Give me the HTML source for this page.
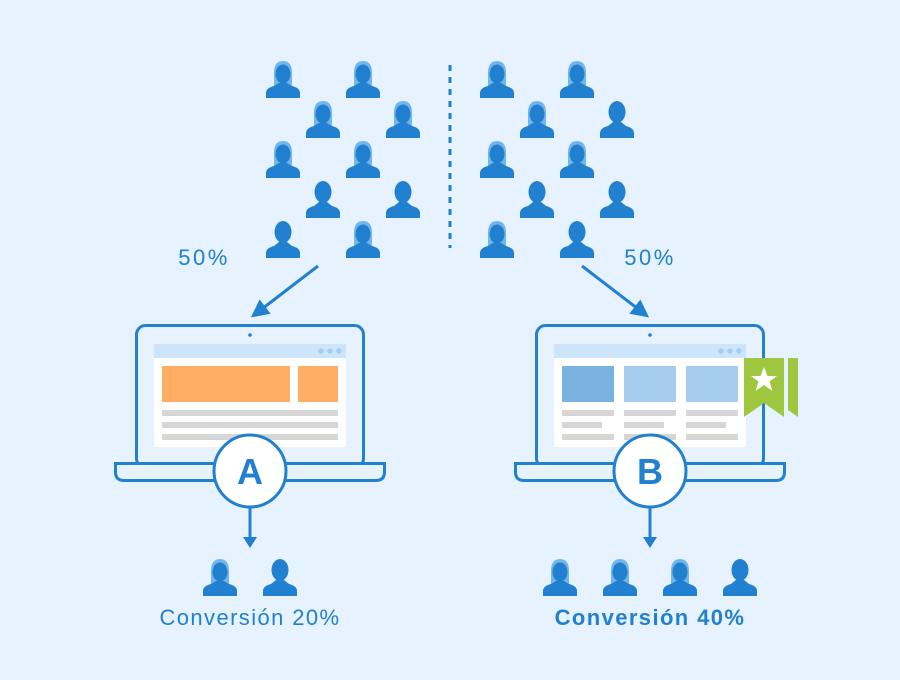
<!DOCTYPE html>
<html><head><meta charset="utf-8"><style>
html,body{margin:0;padding:0;background:#e6f2fd;}
svg{display:block}
text{font-family:"Liberation Sans",sans-serif;fill:#2180d0}
</style></head><body>
<svg width="900" height="680" viewBox="0 0 900 680" xmlns="http://www.w3.org/2000/svg">
<defs>
<g id="f">
<path d="M8 28 V13 Q8 1 17 1 Q26 1 26 13 V28 Z" fill="#70b5ec"/>
<ellipse cx="17" cy="14" rx="7.5" ry="9.5" fill="#2180d0"/>
<path d="M0 38 V33 Q0 28 8 26 L13 23 L21 23 L26 26 Q34 28 34 33 V38 Z" fill="#2180d0"/>
</g>
<g id="m">
<ellipse cx="17" cy="12" rx="8.5" ry="11" fill="#2180d0"/>
<path d="M0 38 V33 Q0 28 8 26 L13 22 L21 22 L26 26 Q34 28 34 33 V38 Z" fill="#2180d0"/>
</g>
<marker id="ah" markerWidth="6" markerHeight="6" refX="3" refY="3" orient="auto" markerUnits="strokeWidth">
<path d="M0 0 L6 3 L0 6 Z" fill="#2180d0"/>
</marker>
</defs>
<rect width="900" height="680" fill="#e6f2fd"/>

<use href="#f" x="266" y="60"/><use href="#f" x="346" y="60"/>
<use href="#f" x="306" y="100"/><use href="#f" x="386" y="100"/>
<use href="#f" x="266" y="140"/><use href="#f" x="346" y="140"/>
<use href="#m" x="306" y="180"/><use href="#m" x="386" y="180"/>
<use href="#m" x="266" y="220"/><use href="#f" x="346" y="220"/>
<use href="#f" x="480" y="60"/><use href="#f" x="560" y="60"/>
<use href="#f" x="520" y="100"/><use href="#m" x="600" y="100"/>
<use href="#f" x="480" y="140"/><use href="#f" x="560" y="140"/>
<use href="#m" x="520" y="180"/><use href="#m" x="600" y="180"/>
<use href="#f" x="480" y="220"/><use href="#m" x="560" y="220"/>

<line x1="450" y1="65" x2="450" y2="248" stroke="#2180d0" stroke-width="3" stroke-dasharray="6,6"/>

<text x="204" y="265" font-size="22" letter-spacing="2.5" text-anchor="middle">50%</text>
<text x="650" y="265" font-size="22" letter-spacing="2.5" text-anchor="middle">50%</text>
<line x1="318" y1="266" x2="258" y2="312" stroke="#2180d0" stroke-width="3" marker-end="url(#ah)"/>
<line x1="582" y1="266" x2="642" y2="312" stroke="#2180d0" stroke-width="3" marker-end="url(#ah)"/>

<rect x="136.5" y="325.5" width="227" height="142" rx="9" fill="#e6f2fd" stroke="#2180d0" stroke-width="3"/>
<circle cx="250" cy="335" r="1.8" fill="#2180d0"/>
<rect x="154" y="344" width="192" height="103" fill="#fff"/>
<rect x="154" y="344" width="192" height="14" fill="#cce5fa"/>
<circle cx="321" cy="351" r="2.7" fill="#a6cdee"/><circle cx="330" cy="351" r="2.7" fill="#a6cdee"/><circle cx="339" cy="351" r="2.7" fill="#a6cdee"/>
<rect x="162" y="366" width="128" height="36" fill="#ffae64"/>
<rect x="298" y="366" width="40" height="36" fill="#ffae64"/>
<rect x="162" y="410" width="176" height="6" fill="#d6d6d6"/>
<rect x="162" y="422" width="176" height="6" fill="#d6d6d6"/>
<rect x="162" y="434" width="176" height="6" fill="#d6d6d6"/>
<path d="M115.5 463.5 H384.5 V472 Q384.5 480.5 376 480.5 H124 Q115.5 480.5 115.5 472 Z" fill="#e6f2fd" stroke="#2180d0" stroke-width="3"/>
<circle cx="250" cy="471" r="36" fill="#fff" stroke="#2180d0" stroke-width="3"/>
<text x="250" y="484" font-size="36" font-weight="bold" text-anchor="middle">A</text>
<line x1="250" y1="507" x2="250" y2="538" stroke="#2180d0" stroke-width="3"/>
<path d="M243 537 L257 537 L250 548 Z" fill="#2180d0"/>

<rect x="536.5" y="325.5" width="227" height="142" rx="9" fill="#e6f2fd" stroke="#2180d0" stroke-width="3"/>
<circle cx="650" cy="335" r="1.8" fill="#2180d0"/>
<rect x="554" y="344" width="192" height="103" fill="#fff"/>
<rect x="554" y="344" width="192" height="14" fill="#cce5fa"/>
<circle cx="721" cy="351" r="2.7" fill="#a6cdee"/><circle cx="730" cy="351" r="2.7" fill="#a6cdee"/><circle cx="739" cy="351" r="2.7" fill="#a6cdee"/>
<rect x="562" y="366" width="52" height="36" fill="#7ab3e0"/>
<rect x="624" y="366" width="52" height="36" fill="#a6cdee"/>
<rect x="686" y="366" width="52" height="36" fill="#a6cdee"/>
<rect x="562" y="410" width="52" height="6" fill="#d6d6d6"/><rect x="624" y="410" width="52" height="6" fill="#d6d6d6"/><rect x="686" y="410" width="52" height="6" fill="#d6d6d6"/>
<rect x="562" y="422" width="40" height="6" fill="#d6d6d6"/><rect x="624" y="422" width="40" height="6" fill="#d6d6d6"/><rect x="686" y="422" width="40" height="6" fill="#d6d6d6"/>
<rect x="562" y="434" width="52" height="6" fill="#d6d6d6"/><rect x="624" y="434" width="52" height="6" fill="#d6d6d6"/><rect x="686" y="434" width="52" height="6" fill="#d6d6d6"/>
<path d="M744 358 H784 V417 L764 403 L744 417 Z" fill="#9ec73f"/>
<path d="M788 358 H798 V417 L788 410 Z" fill="#9ec73f"/>
<path d="M764 367 L767.5 376 L777 376 L769.5 381.5 L772.5 391 L764 385 L755.5 391 L758.5 381.5 L751 376 L760.5 376 Z" fill="#fff"/>
<path d="M515.5 463.5 H784.5 V472 Q784.5 480.5 776 480.5 H524 Q515.5 480.5 515.5 472 Z" fill="#e6f2fd" stroke="#2180d0" stroke-width="3"/>
<circle cx="650" cy="471" r="36" fill="#fff" stroke="#2180d0" stroke-width="3"/>
<text x="650" y="484" font-size="36" font-weight="bold" text-anchor="middle">B</text>
<line x1="650" y1="507" x2="650" y2="538" stroke="#2180d0" stroke-width="3"/>
<path d="M643 537 L657 537 L650 548 Z" fill="#2180d0"/>

<use href="#f" x="203" y="558"/><use href="#m" x="263" y="558"/>
<use href="#f" x="543" y="558"/><use href="#f" x="603" y="558"/><use href="#f" x="663" y="558"/><use href="#m" x="723" y="558"/>
<text x="250" y="625" font-size="22" letter-spacing="1.4" text-anchor="middle">Conversión 20%</text>
<text x="650" y="625" font-size="22" letter-spacing="1.4" font-weight="bold" text-anchor="middle">Conversión 40%</text>
</svg>
</body></html>
